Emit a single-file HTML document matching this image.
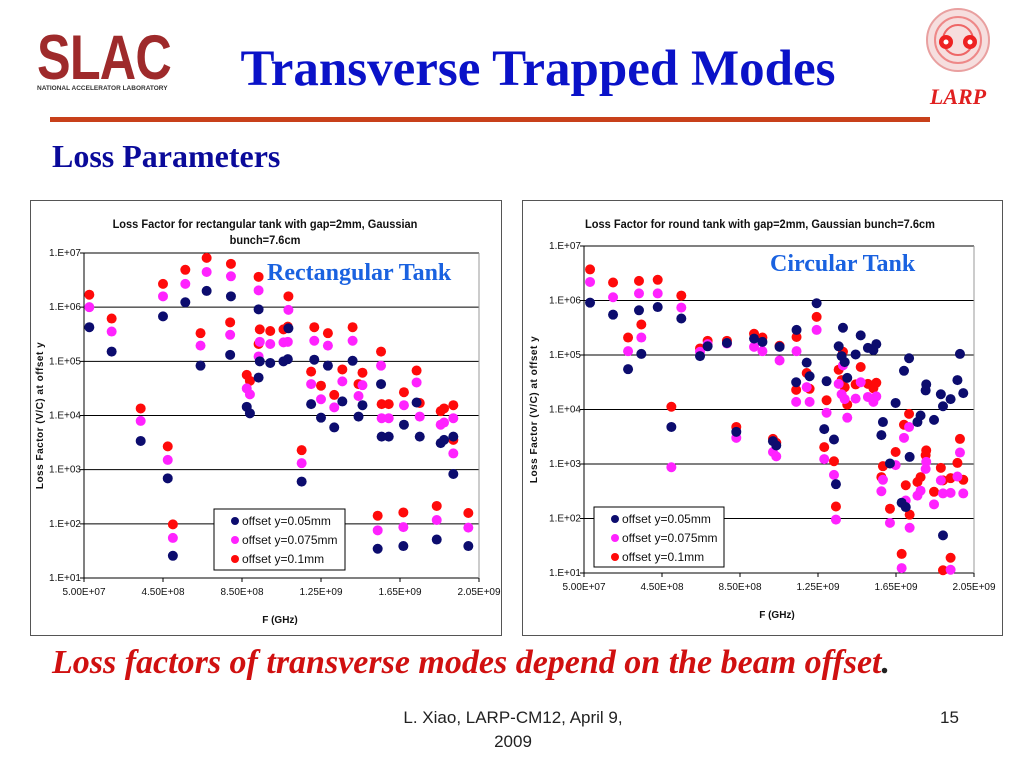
<!DOCTYPE html>
<html><head><meta charset="utf-8">
<style>
body{margin:0;background:#fff;}
#slide{position:relative;width:1024px;height:768px;overflow:hidden;background:#fff;font-family:"Liberation Sans",sans-serif;}
.abs{position:absolute;}
</style></head>
<body>
<div id="slide">
  <div class="abs" style="left:37px;top:33px;width:145px;height:70px;">
    <div style="font:900 63px/50px 'Liberation Sans',sans-serif;color:#9e2a2b;letter-spacing:-1px;transform:scaleX(0.8);transform-origin:left;white-space:nowrap;">SLAC</div>
    <div style="font:bold 6.5px 'Liberation Sans',sans-serif;color:#333;margin-top:2px;white-space:nowrap;">NATIONAL ACCELERATOR LABORATORY</div>
  </div>
  <div class="abs" style="left:190px;top:40px;width:696px;text-align:center;font:bold 51px 'Liberation Serif',serif;color:#0a12c8;white-space:nowrap;">Transverse Trapped Modes</div>
  <svg class="abs" style="left:922px;top:4px;" width="72" height="72" viewBox="0 0 72 72">
    <circle cx="36" cy="36" r="31" fill="#f6dede" stroke="#e9a0a0" stroke-width="2"/>
    <circle cx="36" cy="36" r="23" fill="none" stroke="#e88" stroke-width="2"/>
    <circle cx="36" cy="36" r="15" fill="none" stroke="#e66" stroke-width="2"/>
    <circle cx="24" cy="38" r="7" fill="#e22"/><circle cx="48" cy="38" r="7" fill="#e22"/>
    <circle cx="24" cy="38" r="2.5" fill="#fff"/><circle cx="48" cy="38" r="2.5" fill="#fff"/>
  </svg>
  <div class="abs" style="left:920px;top:84px;width:76px;text-align:center;font:italic bold 22px 'Liberation Serif',serif;color:#e02020;">LARP</div>
  <div class="abs" style="left:50px;top:117px;width:880px;height:5px;background:#c8401a;"></div>
  <div class="abs" style="left:52px;top:138px;font:bold 32px 'Liberation Serif',serif;color:#0a0a9a;">Loss Parameters</div>

  <svg class="abs" id="chartL" style="left:30px;top:200px;" width="472" height="436"></svg>
  <svg class="abs" id="chartR" style="left:522px;top:200px;" width="481" height="436"></svg>

  <div class="abs" style="left:52px;top:644px;font:italic bold 34px 'Liberation Serif',serif;color:#d01010;white-space:nowrap;">Loss factors of transverse modes depend on the beam offset<span style="color:#222">.</span></div>
  <div class="abs" style="left:383px;top:706px;width:260px;text-align:center;font:17px/24px 'Liberation Sans',sans-serif;color:#222;">L. Xiao, LARP-CM12, April 9, 2009</div>
  <div class="abs" style="left:940px;top:706px;font:17px/24px 'Liberation Sans',sans-serif;color:#222;">15</div>
</div>
<script>
// ---- Rectangular tank data (F in GHz, log10 loss factor) ----
const rectF = [0.077,0.19,0.337,0.45,0.474,0.5,0.563,0.64,0.671,0.794,0.79,0.874,0.89,0.934,0.934,0.94,0.993,1.06,1.085,1.082,1.152,1.2,1.216,1.25,1.285,1.317,1.358,1.41,1.44,1.46,1.537,1.554,1.557,1.593,1.667,1.67,1.734,1.75,1.836,1.856,1.873,1.92,1.92,1.996];
const rectBlue = [5.63,5.18,3.53,5.83,2.84,1.41,6.09,4.92,6.3,6.2,5.12,4.16,4.04,5.96,4.7,5.0,4.97,5.0,5.61,5.04,2.78,4.21,5.03,3.96,4.92,3.78,4.26,5.01,3.98,4.19,1.54,4.58,3.61,3.61,1.59,3.83,4.24,3.61,1.71,3.49,3.55,2.92,3.61,1.59];
const rectMag = [6.0,5.55,3.9,6.2,3.18,1.74,6.43,5.29,6.65,6.57,5.49,4.5,4.39,6.31,5.09,5.36,5.32,5.35,5.95,5.36,3.12,4.58,5.38,4.3,5.29,4.15,4.63,5.38,4.36,4.56,1.88,4.92,3.95,3.95,1.94,4.19,4.61,3.98,2.07,3.83,3.87,3.3,3.95,1.93];
const rectRed = [6.23,5.79,4.13,6.43,3.43,1.99,6.69,5.52,6.91,6.8,5.72,4.75,4.64,6.56,5.32,5.59,5.56,5.59,6.2,5.64,3.36,4.81,5.63,4.55,5.52,4.38,4.85,5.63,4.58,4.79,2.15,5.18,4.21,4.21,2.21,4.43,4.83,4.23,2.33,4.08,4.13,3.55,4.19,2.2];
// ---- Circular tank data ----
const circF = [0.081,0.199,0.276,0.332,0.344,0.428,0.498,0.549,0.645,0.684,0.783,0.831,0.922,0.965,1.019,1.036,1.053,1.14,1.138,1.192,1.207,1.243,1.294,1.282,1.332,1.342,1.356,1.378,1.371,1.387,1.4,1.443,1.469,1.506,1.534,1.549,1.575,1.583,1.619,1.648,1.691,1.679,1.7,1.717,1.72,1.76,1.776,1.802,1.805,1.845,1.88,1.891,1.891,1.93,1.93,1.965,1.978,1.995];
const circBlue = [5.96,5.74,4.74,5.82,5.02,5.88,3.68,5.67,4.98,5.16,5.22,3.59,5.3,5.24,3.42,3.34,5.15,5.46,4.5,4.86,4.61,5.95,4.52,3.64,3.45,2.63,5.16,5.5,4.98,4.87,4.58,5.01,5.36,5.13,5.09,5.2,3.53,3.77,3.01,4.12,4.71,2.29,2.21,4.94,3.13,3.77,3.89,4.35,4.46,3.81,4.28,4.06,1.69,4.19,null,4.54,5.02,4.3];
const circMag = [6.34,6.06,5.07,6.13,5.32,6.13,2.94,5.87,5.06,5.2,5.21,3.48,5.15,5.07,3.22,3.14,4.9,5.07,4.14,4.41,4.14,5.46,3.94,3.09,2.8,1.98,4.47,4.81,4.28,4.19,3.85,4.2,4.5,4.23,4.14,4.24,2.5,2.71,1.92,2.98,3.48,1.09,2.33,3.68,1.83,2.42,2.51,2.91,3.04,2.26,2.7,2.46,null,2.47,1.06,2.77,3.21,2.46];
const circRed = [6.57,6.33,5.32,6.36,5.56,6.38,4.05,6.09,5.12,5.26,5.26,3.68,5.39,5.32,3.46,3.39,5.17,5.33,4.36,4.67,4.38,5.7,4.17,3.31,3.05,2.22,4.73,5.06,4.54,4.41,4.09,4.46,4.78,4.47,4.39,4.49,2.76,2.96,2.18,3.22,3.72,1.35,2.61,3.92,2.07,2.67,2.76,3.16,3.25,2.49,2.93,2.7,1.05,2.74,1.28,3.02,3.46,2.71];
const yTicks = ["1.E+01","1.E+02","1.E+03","1.E+04","1.E+05","1.E+06","1.E+07"];
const xTicks = ["5.00E+07","4.50E+08","8.50E+08","1.25E+09","1.65E+09","2.05E+09"];
const xTickVals = [0.05,0.45,0.85,1.25,1.65,2.05];

const NS='http://www.w3.org/2000/svg';
function mk(svg,tag,attrs,text){const e=document.createElementNS(NS,tag);for(const k in attrs)e.setAttribute(k,attrs[k]);if(text!==undefined)e.textContent=text;svg.appendChild(e);return e;}

function drawChart(svg,cfg){
  const W=+svg.getAttribute('width'),H=+svg.getAttribute('height');
  const frame=mk(svg,'rect',{x:0.5,y:0.5,width:W-1,height:H-1,fill:'#fff',stroke:'#555','stroke-width':1});
  
  
  const L=cfg.left,R=cfg.right,T=cfg.top,B=cfg.bottom;
  const xs=v=>L+(v-0.05)/2.0*(R-L);
  const ys=v=>B-(v-1)/6*(B-T);
  cfg.title.forEach((t,i)=>{const e=mk(svg,'text',{x:cfg.titleX,y:cfg.titleY+i*16,'text-anchor':'middle','font-size':12,'font-weight':'bold','font-family':'Liberation Sans Narrow, Liberation Sans, sans-serif',fill:'#111',transform:`translate(${cfg.titleX},0) scale(0.92,1) translate(${-cfg.titleX},0)`},t);
    
    });
  yTicks.forEach((lab,i)=>{const y=ys(i+1);
    const g=mk(svg,'line',{x1:L-4,x2:R,y1:y,y2:y,stroke:'#000','stroke-width':1});
    
    
    const t=mk(svg,'text',{x:L-3,y:y+3,'text-anchor':'end','font-size':10,'font-family':'Liberation Sans Narrow, Liberation Sans, sans-serif',fill:'#111'},lab);
    
    });
  const ax=mk(svg,'line',{x1:L,x2:L,y1:T,y2:B,stroke:'#000'});
  
  
  const rb=mk(svg,'line',{x1:R,x2:R,y1:T,y2:B,stroke:'#999'});
  
  
  xTickVals.forEach((v,i)=>{const x=xs(v);
    const tk=mk(svg,'line',{x1:x,x2:x,y1:B,y2:B+4,stroke:'#000'});
    
    
    const t=mk(svg,'text',{x:x,y:B+17,'text-anchor':'middle','font-size':10,'font-family':'Liberation Sans Narrow, Liberation Sans, sans-serif',fill:'#111'},xTicks[i]);
    
    });
  const xt=mk(svg,'text',{x:cfg.xTitleX,y:B+45,'text-anchor':'middle','font-size':10,'font-weight':'bold','font-family':'Liberation Sans Narrow, Liberation Sans, sans-serif',fill:'#111'},'F (GHz)');
  
  
  const yt=mk(svg,'text',{x:0,y:0,transform:`translate(${cfg.yTitleX},${(T+B)/2}) rotate(-90)`,'text-anchor':'middle','font-size':10,'font-weight':'bold','letter-spacing':'0.5','font-family':'Liberation Sans, sans-serif',fill:'#111'},'Loss Factor (V/C) at offset y');
  
  
  const series=[[cfg.red,'#ff0a0a','offset-0.1mm'],[cfg.mag,'#ff22ff','offset-0.075mm'],[cfg.blue,'#0c0c6e','offset-0.05mm']];
  series.forEach(([arr,col,nm])=>{arr.forEach((v,i)=>{if(v===null)return;
    const c=mk(svg,'circle',{cx:xs(cfg.f[i]),cy:ys(v),r:5,fill:col});
    
    });});
  const lg=cfg.legend;
  const box=mk(svg,'rect',{x:lg.x,y:lg.y,width:lg.w,height:lg.h,fill:'#fff',stroke:'#000'});
  
  
  [['#0c0c6e','offset y=0.05mm'],['#ff22ff','offset y=0.075mm'],['#ff0a0a','offset y=0.1mm']].forEach(([c,l],i)=>{
    const cy=lg.y+12+i*19;
    const d=mk(svg,'circle',{cx:lg.x+21,cy:cy,r:4,fill:c});
    
    
    const t=mk(svg,'text',{x:lg.x+28,y:cy+4,'font-size':12,'font-family':'Liberation Sans Narrow, Liberation Sans, sans-serif',fill:'#111'},l);
    
    });
  const lab=mk(svg,'text',{x:cfg.labX,y:cfg.labY,'font-size':24,'font-weight':'bold','font-family':'Liberation Serif, serif',fill:'#1a62e0'},cfg.label);
  
  
}
drawChart(document.getElementById('chartL'),{left:54,right:449,top:53,bottom:378,f:rectF,blue:rectBlue,mag:rectMag,red:rectRed,
  title:['Loss Factor for rectangular tank with gap=2mm, Gaussian','bunch=7.6cm'],titleX:235,titleY:28,xTitleX:250,yTitleX:13,
  legend:{x:184,y:309,w:131,h:61},label:'Rectangular Tank',labX:237,labY:80});
drawChart(document.getElementById('chartR'),{left:62,right:452,top:46,bottom:373,f:circF,blue:circBlue,mag:circMag,red:circRed,
  title:['Loss Factor for round tank with gap=2mm, Gaussian bunch=7.6cm'],titleX:238,titleY:28,xTitleX:255,yTitleX:15,
  legend:{x:72,y:307,w:130,h:60},label:'Circular Tank',labX:248,labY:71});
</script>
</body></html>
